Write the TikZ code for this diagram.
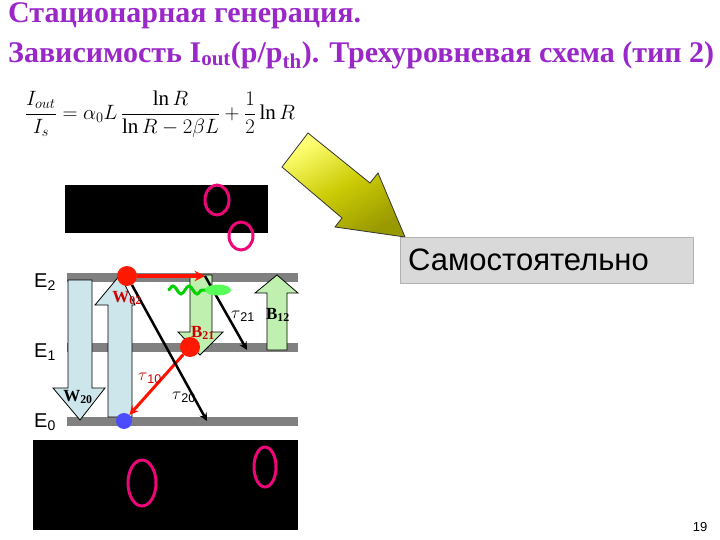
\documentclass[tikz,border=0pt]{standalone}
\usepackage{fontspec}
\setmainfont{Liberation Serif}
\newfontfamily\arial{Liberation Sans}
\usetikzlibrary{decorations.pathmorphing,shapes.geometric}
\definecolor{ttl}{HTML}{9A28C8}
\definecolor{lblue}{HTML}{CDE6EC}
\definecolor{lgreen}{HTML}{BFF0B0}
\definecolor{bargray}{HTML}{808080}
\begin{document}
\begin{tikzpicture}[x=1pt,y=-1pt,
  bar/.style={fill=bargray,draw=none},
  fatarrow/.style={draw=black,line width=0.8pt},
  lab/.style={font=\fontsize{17}{17}\selectfont\bfseries},
  elab/.style={font=\arial\fontsize{20}{20}\selectfont},
  blob/.style={circle,fill=#1,draw=none,inner sep=0pt,minimum size=20pt},
  ring/.style={draw=magenta!80!red,line width=3pt}]
\useasboundingbox (0,0) rectangle (720,540);
% title
\node[anchor=west,text=ttl,font=\fontsize{30}{32}\selectfont\bfseries,inner sep=0pt] (t1) at (8,16) {Стационарная генерация.};
\node[anchor=west,text=ttl,font=\fontsize{30}{32}\selectfont\bfseries,inner sep=0pt] (t2) at (8,55) {Зависимость I\textsubscript{out}(p/p\textsubscript{th}). Трехуровневая схема (тип 2)};
% formula
\node[font=\fontsize{21}{21}\selectfont] (f) at (160,114) {$\displaystyle \frac{I_{out}}{I_s}=\alpha_0 L\,\frac{\ln R}{\ln R-2\beta L}+\frac{1}{2}\ln R$};
% black boxes
\fill[black] (65,185) rectangle (268,233);
\fill[black] (33,440) rectangle (298,530);
\draw[ring] (217,200) ellipse (12 and 15);
\draw[ring] (241,236) ellipse (12 and 14);
\draw[ring] (142,483) ellipse (14 and 23);
\draw[ring] (265,467) ellipse (11 and 20);
% big arrow
\shade[top color=yellow!55!white,bottom color=olive!80!yellow,shading angle=30,draw=gray!40!black,line width=0.8pt]
 (282,167) -- (308,133) -- (370,183) -- (378,173) -- (405,237) -- (335,227) -- (342,218) -- cycle;
\node[draw=gray!60,fill=gray!30,minimum width=293pt,minimum height=46pt,anchor=north west,inner sep=0pt] (box) at (400,237) {};
\node[anchor=west,font=\arial\fontsize{31}{31}\selectfont,inner sep=0pt] (boxt) at (408,260) {Самостоятельно};
% bars
\fill[bar] (67,273) rectangle (298,282);
\fill[bar] (67,343) rectangle (298,352);
\fill[bar] (67,417) rectangle (298,426);
\node[elab] (e2) at (45,282) {E\textsubscript{2}};
\node[elab] (e1) at (45,352) {E\textsubscript{1}};
\node[elab] (e0) at (45,422) {E\textsubscript{0}};
% fat arrows
\draw[fatarrow,fill=lblue] (68,280) -- (92,280) -- (92,388) -- (105,388) -- (80,420) -- (53,388) -- (68,388) -- cycle;
\draw[fatarrow,fill=lblue] (108,417) -- (132,417) -- (132,305) -- (135,305) -- (120,275) -- (95,305) -- (108,305) -- cycle;
\draw[fatarrow,fill=lgreen] (190,275) -- (212,275) -- (212,332) -- (223,332) -- (200,355) -- (178,332) -- (190,332) -- cycle;
\draw[fatarrow,fill=lgreen] (267,350) -- (287,350) -- (287,293) -- (298,293) -- (277,275) -- (255,293) -- (267,293) -- cycle;
% blobs
\node[blob=blue!70,minimum size=16pt] (b0) at (124,421) {};
\node[blob=red!80!orange] (b2) at (127,276) {};
\node[blob=red!80!orange] (b1) at (190,347) {};
\coordinate (r2) at (205,276);
\coordinate (t21) at (247,350);
\coordinate (t20) at (207,421);
% arrows
\draw[red!85!orange,line width=3.5pt,-stealth] (b2) -- (r2);
\draw[red!85!orange,line width=3pt,-stealth] (b1) -- (b0);
\draw[black,line width=2.5pt,-stealth] (b2) -- (t20);
\draw[black,line width=2.5pt,-stealth] (r2) -- (t21);
% wave
\draw[green!75!black!70!green,line width=3pt,decorate,decoration={snake,amplitude=4pt,segment length=16pt}] (168,290) -- (208,290);
\node[ellipse,fill=green!65,inner sep=0pt,minimum width=26pt,minimum height=11pt] (wv) at (218,290) {};
% labels
\node[lab,text=red!80!black] (lw02) at (127,298) {W\textsubscript{02}};
\node[lab] (lw20) at (78,397) {W\textsubscript{20}};
\node[lab,text=red!80!black] (lb21) at (203,333) {B\textsubscript{21}};
\node[lab] (lb12) at (278,315) {B\textsubscript{12}};
\node[font=\arial\fontsize{18}{18}\selectfont] (lt21) at (243,316) {$\tau$\textsubscript{21}};
\node[font=\arial\fontsize{18}{18}\selectfont,text=red!80!black] (lt10) at (150,378) {$\tau$\textsubscript{10}};
\node[font=\arial\fontsize{18}{18}\selectfont] (lt20) at (184,397) {$\tau$\textsubscript{20}};
\node[font=\arial\fontsize{13}{13}\selectfont] (pg) at (700,527) {19};
\end{tikzpicture}
\end{document}
